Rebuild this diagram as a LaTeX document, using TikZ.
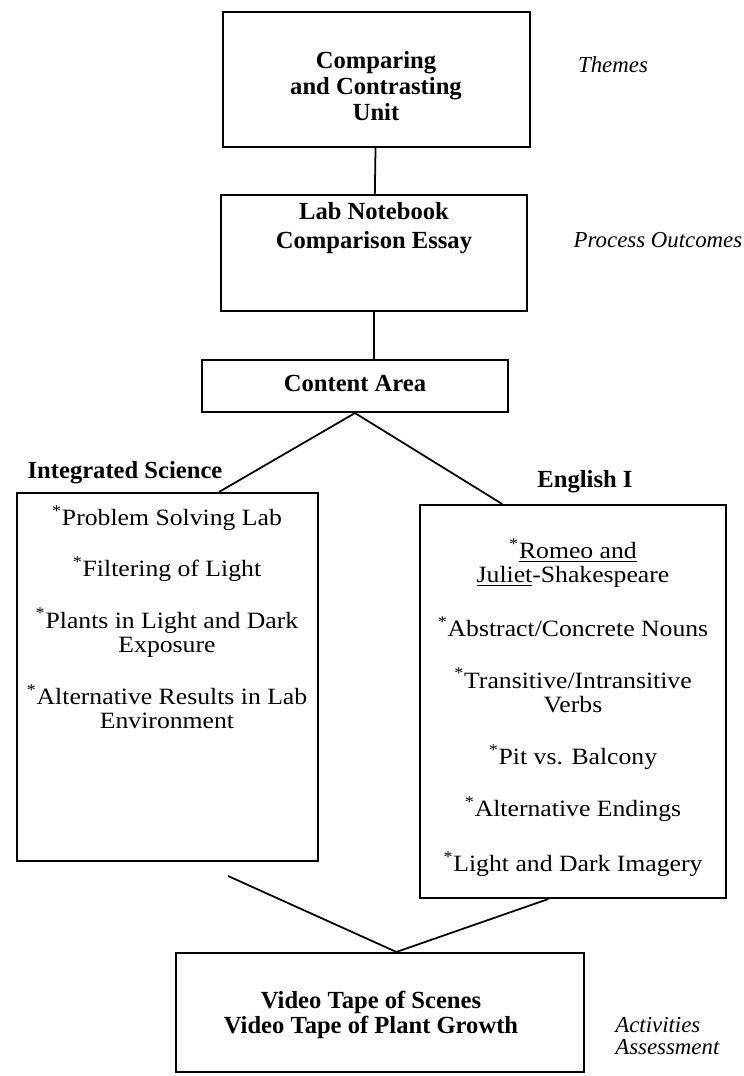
\documentclass[tikz,border=0pt]{standalone}
\usepackage{fontspec}
\setmainfont{Liberation Serif}
\newfontfamily\listfont[FakeStretch=1.1]{Liberation Serif}
\usetikzlibrary{calc}
\newcommand{\mk}{\textsuperscript{*}}

\begin{document}
\begin{tikzpicture}[x=0.02cm, y=-0.02cm,
	box/.style={draw, line width=1.2pt, inner sep=0pt},
	title/.style={font=\fontsize{14}{15}\selectfont\bfseries, align=center, inner sep=0pt},
	items/.style={font=\listfont\fontsize{13.3}{14}\selectfont, align=center, inner sep=0pt},
	side/.style={font=\fontsize{13}{13}\selectfont\itshape, inner sep=0pt},
	link/.style={line width=1pt}]
	\useasboundingbox (0,0) rectangle (744,1076);

	\node[box, minimum width=6.14cm, minimum height=2.7cm] (theme) at (376.5,79.5) {};
	\node[title] (theme-text) at (376,86) {Comparing\\and Contrasting\\Unit};
	\node[side] (themes) at (613,65) {Themes};

	\node[box, minimum width=6.12cm, minimum height=2.32cm] (notebook) at (374,253) {};
	\node[title, font=\fontsize{14}{16.5}\selectfont\bfseries] (notebook-text) at (374,228) {Lab Notebook\\Comparison Essay};
	\node[side] (outcomes) at (658,240) {Process Outcomes};

	\node[box, minimum width=6.12cm, minimum height=1.04cm] (content) at (355,386) {};
	\node[title] (content-text) at (355,383) {Content Area};

	\node[title] (science-label) at (125,473) {Integrated Science};
	\node[title] (english-label) at (585,482) {English I};

	\node[box, minimum width=6.02cm, minimum height=7.36cm] (science) at (167.5,677) {};
	\node[items, anchor=north] (science-list) at (167,505) {\mk Problem Solving Lab\\[0.49cm]
		\mk Filtering of Light\\[0.5cm]
		\mk Plants in Light and Dark\\Exposure\\[0.5cm]
		\mk Alternative Results in Lab\\Environment};

	\node[box, minimum width=6.12cm, minimum height=7.86cm] (english) at (573,701.5) {};
	\node[items, anchor=north] (english-list) at (573,538) {\mk\underline{Romeo and}\\\underline{Juliet}-Shakespeare\\[0.54cm]
		\mk Abstract/Concrete Nouns\\[0.54cm]
		\mk Transitive/Intransitive\\Verbs\\[0.54cm]
		\mk Pit vs. Balcony\\[0.52cm]
		\mk Alternative Endings\\[0.56cm]
		\mk Light and Dark Imagery};

	\node[box, minimum width=8.16cm, minimum height=2.38cm] (video) at (380,1012.5) {};
	\node[title, font=\fontsize{14}{14.7}\selectfont\bfseries] (video-text) at (371,1015) {Video Tape of Scenes\\Video Tape of Plant Growth};
	\node[side, anchor=west, align=left] (assess) at (615,1036) {Activities\\Assessment};

	\coordinate (meet) at ($(video.north west)!.54!(video.north east)$);

	\draw[link] (theme) -- (notebook);
	\draw[link] (notebook) -- (notebook |- content.north);
	\draw[link] (content.south) -- ($(science.north west)!.67!(science.north east)$);
	\draw[link] (content.south) -- ($(english.north west)!.27!(english.north east)$);
	\draw[link] ($(science.south west)!.70!(science.south east)+(0,14)$) -- (meet);
	\draw[link] ($(english.south west)!.42!(english.south east)$) -- (meet);
\end{tikzpicture}
\end{document}
